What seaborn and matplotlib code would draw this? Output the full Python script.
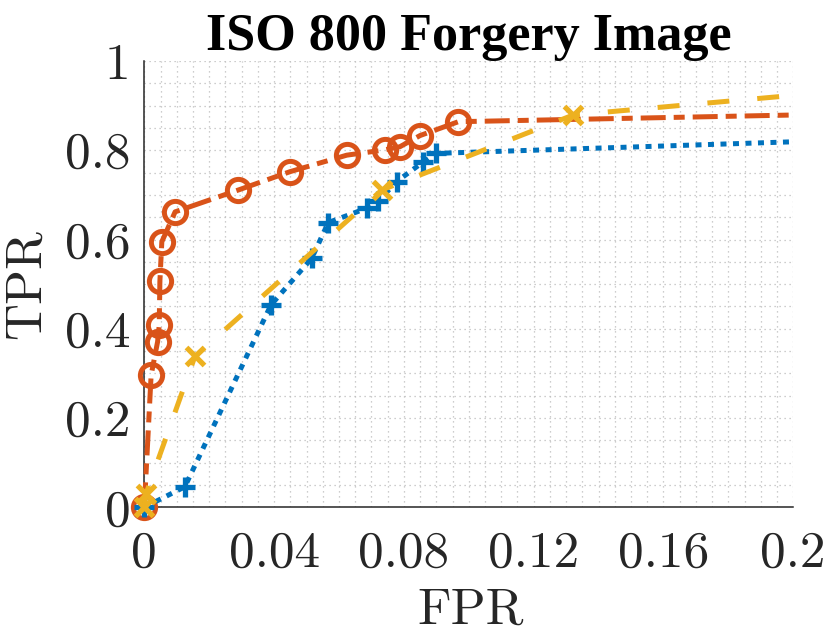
import numpy as np
import pandas as pd
import seaborn as sns
import matplotlib
matplotlib.use("Agg")
import matplotlib.pyplot as plt
from matplotlib.ticker import MultipleLocator, FixedLocator

# ---- data ----
orange_fpr = [0.0, 0.0021, 0.0041, 0.0046, 0.0048, 0.0054, 0.0095, 0.029, 0.0449,
              0.0624, 0.0742, 0.0788, 0.085, 0.0968, 0.2]
orange_tpr = [0.0, 0.296, 0.371, 0.408, 0.506, 0.595, 0.662, 0.711, 0.752,
              0.789, 0.801, 0.808, 0.833, 0.864, 0.879]

blue_fpr = [0.0, 0.0125, 0.039, 0.0516, 0.0567, 0.0685, 0.0721, 0.0778, 0.086, 0.0898, 0.2]
blue_tpr = [0.0, 0.046, 0.453, 0.558, 0.638, 0.670, 0.686, 0.730, 0.774, 0.793, 0.819]

yellow_fpr = [0.0, 0.0005, 0.0156, 0.0732, 0.1322, 0.2]
yellow_tpr = [0.0, 0.030, 0.338, 0.711, 0.879, 0.923]

x_ticks = [0, 0.04, 0.08, 0.12, 0.16, 0.2]
x_tick_labels = ["0", "0.04", "0.08", "0.12", "0.16", "0.2"]
y_ticks = [0, 0.2, 0.4, 0.6, 0.8, 1.0]
y_tick_labels = ["0", "0.2", "0.4", "0.6", "0.8", "1"]

title_text = "ISO 800 Forgery Image"
x_label = "FPR"
y_label = "TPR"

# ---- style ----
sns.set_theme(style="white")
plt.rcParams["font.family"] = ["cmr10", "DejaVu Serif"]
plt.rcParams["axes.unicode_minus"] = False

C_BLUE = "#0072BD"
C_ORANGE = "#D95319"
C_YELLOW = "#EDB120"
LW = 3.6

fig = plt.figure(figsize=(8.30, 6.35), dpi=100)
ax = fig.add_axes([0.17386, 0.20110, 0.78181, 0.70283])

def series(x, y):
    return pd.DataFrame({"FPR": x, "TPR": y})

n_o = len(orange_fpr)
sns.lineplot(data=series(orange_fpr, orange_tpr), x="FPR", y="TPR", ax=ax,
             sort=False, estimator=None, color=C_ORANGE, linewidth=LW,
             linestyle=(0, (5.0, 1.6, 2.2, 1.6)),
             marker="o", markersize=16, markerfacecolor="none",
             markeredgecolor=C_ORANGE, markeredgewidth=3.6,
             markevery=list(range(n_o - 1)), clip_on=False, zorder=3)

n_b = len(blue_fpr)
sns.lineplot(data=series(blue_fpr, blue_tpr), x="FPR", y="TPR", ax=ax,
             sort=False, estimator=None, color=C_BLUE, linewidth=LW,
             linestyle=(0, (1.2, 1.3)),
             marker="+", markersize=15,
             markeredgecolor=C_BLUE, markeredgewidth=3.8,
             markevery=list(range(n_b - 1)), clip_on=False, zorder=4)

n_y = len(yellow_fpr)
sns.lineplot(data=series(yellow_fpr, yellow_tpr), x="FPR", y="TPR", ax=ax,
             sort=False, estimator=None, color=C_YELLOW, linewidth=LW,
             linestyle=(0, (4.4, 5.6)),
             marker="x", markersize=13,
             markeredgecolor=C_YELLOW, markeredgewidth=3.8,
             markevery=list(range(n_y - 1)), clip_on=False, zorder=5)

ax.set_xlim(0, 0.2)
ax.set_ylim(0, 1)

ax.xaxis.set_major_locator(FixedLocator(x_ticks))
ax.yaxis.set_major_locator(FixedLocator(y_ticks))
ax.set_xticklabels(x_tick_labels)
ax.set_yticklabels(y_tick_labels)
ax.xaxis.set_minor_locator(MultipleLocator(0.005))
ax.yaxis.set_minor_locator(MultipleLocator(0.05))

ax.grid(True, which="both", linestyle=(0, (1, 3)), color="#bdbdbd", linewidth=0.9)
ax.set_axisbelow(True)

for s in ["top", "right"]:
    ax.spines[s].set_visible(False)
for s in ["left", "bottom"]:
    ax.spines[s].set_color("#262626")
    ax.spines[s].set_linewidth(1.1)
    ax.spines[s].set_zorder(2)

ax.tick_params(axis="both", which="major", direction="in", length=5.5, width=1.0,
               color="#262626", labelsize=37, labelcolor="#262626")
ax.tick_params(axis="x", which="major", pad=17)
ax.tick_params(axis="y", which="major", pad=10)
ax.tick_params(axis="both", which="minor", length=0)

ax.set_xlabel(x_label, fontsize=37, color="#262626")
ax.set_ylabel(y_label, fontsize=37, color="#262626")
ax.xaxis.set_label_coords(0.503, -0.18)
ax.yaxis.set_label_coords(-0.145, 0.5)

ax.set_title(title_text, fontsize=37.5, fontfamily=["Liberation Serif", "DejaVu Serif"],
             fontweight="bold", color="black", pad=8)

fig.savefig("out.png", dpi=100)
